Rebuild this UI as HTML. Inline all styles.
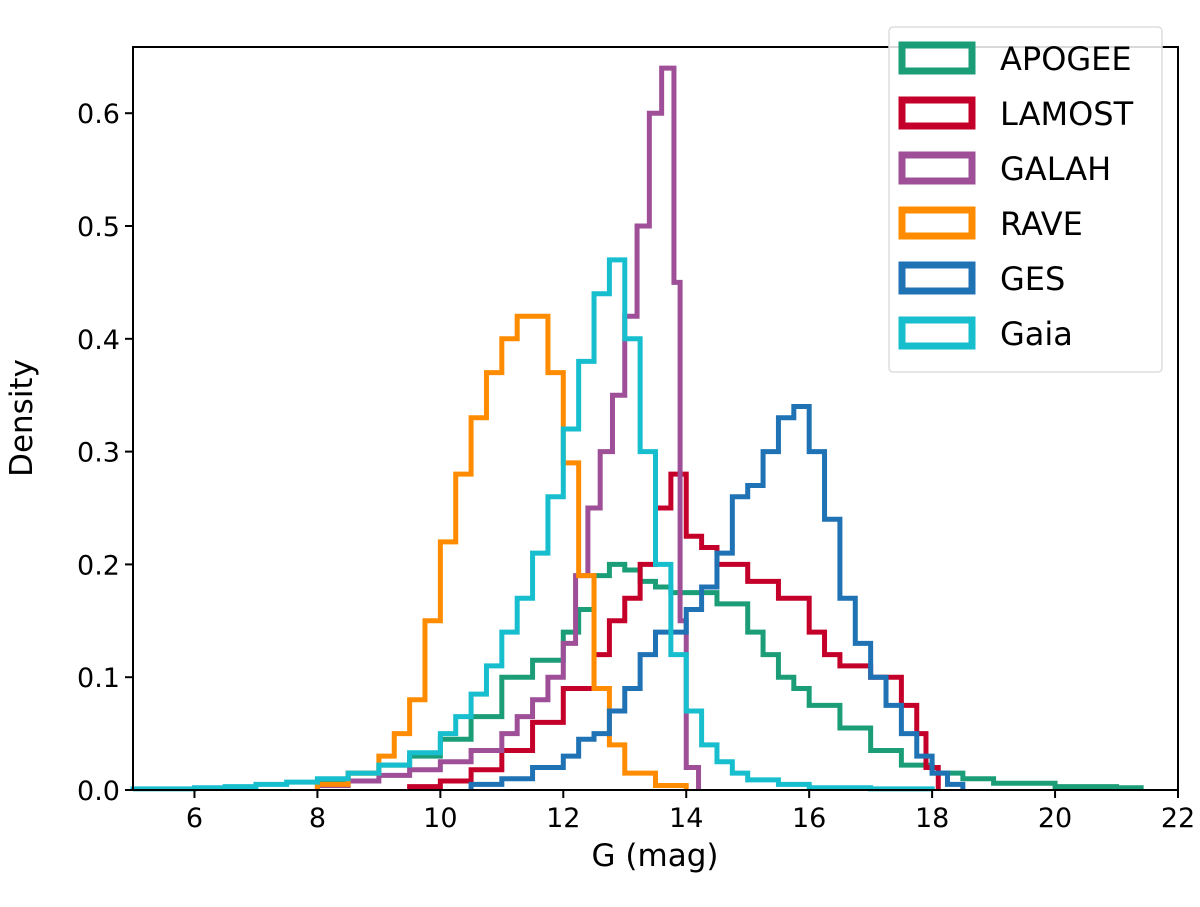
<!DOCTYPE html>
<html><head><meta charset="utf-8"><style>
body{margin:0;background:#fff;}
svg text{font-family:"DejaVu Sans","Liberation Sans",sans-serif;}
</style></head><body>
<svg id="chart" width="1200" height="902" xmlns="http://www.w3.org/2000/svg">
<g id="series"></g>
<rect x="133" y="47" width="1045" height="743" fill="none" stroke="#000" stroke-width="2"/>
<g id="axes"></g>
<text x="655" y="866" font-size="31" text-anchor="middle">G (mag)</text>
<text transform="translate(32,418) rotate(-90)" font-size="31" text-anchor="middle">Density</text>
<g id="legend"></g>
</svg>
<script>
const names=["APOGEE","LAMOST","GALAH","RAVE","GES","Gaia"];
const colors=["#1b9e77","#c4002a","#9e4f98","#ff8c00","#1f72b4","#17bece"];
const apogeeEdges=[8,8.5,9,9.5,10,10.5,11,11.5,12,12.25,12.5,12.75,13,13.25,13.5,13.75,14,14.5,15,15.25,15.5,15.75,16,16.5,17,17.5,18,18.5,19,20,21,21.4];
const apogee=[.008,.015,.022,.03,.045,.065,.1,.115,.14,.16,.19,.2,.195,.185,.18,.175,.175,.165,.14,.12,.1,.09,.075,.055,.035,.022,.015,.01,.006,.003,.002];
const lamostEdges=[9.5,10,10.5,11,11.5,12,12.5,12.75,13,13.25,13.5,13.75,14,14.25,14.5,15,15.5,16,16.25,16.5,17,17.5,17.75,17.9,18.1];
const lamost=[.003,.008,.018,.035,.06,.09,.12,.15,.17,.2,.25,.28,.225,.215,.2,.185,.17,.14,.12,.11,.1,.075,.05,.02];
const galahEdges=[8,8.5,9,9.5,10,10.5,11,11.25,11.5,11.75,12,12.2,12.4,12.6,12.8,13,13.2,13.4,13.6,13.8,13.9,14.0,14.2];
const galah=[.004,.008,.013,.018,.025,.035,.05,.065,.08,.1,.13,.19,.25,.3,.35,.42,.5,.6,.64,.45,.15,.02];
const raveEdges=[8,8.5,9,9.25,9.5,9.75,10,10.25,10.5,10.75,11,11.25,11.5,11.75,12,12.25,12.5,12.75,13,13.5,14];
const rave=[.005,.015,.03,.05,.08,.15,.22,.28,.33,.37,.40,.42,.42,.37,.29,.19,.09,.04,.015,.004];
const gesEdges=[10.5,11,11.5,12,12.25,12.5,12.75,13,13.25,13.5,13.75,14,14.25,14.5,14.75,15,15.25,15.5,15.75,16,16.25,16.5,16.75,17,17.25,17.5,17.75,18,18.25,18.5];
const ges=[.005,.01,.02,.03,.045,.05,.07,.09,.12,.14,.14,.16,.18,.21,.26,.27,.3,.33,.34,.3,.24,.17,.13,.1,.075,.05,.03,.015,.005];
const gaiaEdges=[5,6,6.5,7,7.5,8,8.5,9,9.5,10,10.25,10.5,10.75,11,11.25,11.5,11.75,12,12.25,12.5,12.75,13,13.25,13.5,13.75,14,14.25,14.5,14.75,15,15.5,16,17,18];
const gaia=[.001,.002,.003,.005,.007,.01,.015,.022,.033,.05,.065,.085,.11,.14,.17,.21,.26,.32,.38,.44,.47,.40,.30,.20,.12,.07,.04,.025,.015,.009,.005,.002,.001];
const seriesEdges=[apogeeEdges,lamostEdges,galahEdges,raveEdges,gesEdges,gaiaEdges];
const seriesVals=[apogee,lamost,galah,rave,ges,gaia];
const xTicks=[6,8,10,12,14,16,18,20,22];
const yTicks=["0.0","0.1","0.2","0.3","0.4","0.5","0.6"];
const X0=133,X1=1178,Y0=790,Y1=47,xmin=5,xmax=22,ymax=0.6587;
function xs(v){return X0+(v-xmin)/(xmax-xmin)*(X1-X0);}
function ys(v){return Y0-v/ymax*(Y0-Y1);}
const NS="http://www.w3.org/2000/svg";
const sg=document.getElementById('series');
seriesVals.forEach((vals,k)=>{
  const e=seriesEdges[k];
  let d="M"+xs(e[0])+","+ys(0);
  vals.forEach((v,i)=>{d+=" L"+xs(e[i])+","+ys(v)+" L"+xs(e[i+1])+","+ys(v);});
  d+=" L"+xs(e[vals.length])+","+ys(0);
  const p=document.createElementNS(NS,'path');
  p.setAttribute('d',d);p.setAttribute('fill','none');p.setAttribute('stroke',colors[k]);
  p.setAttribute('stroke-width','5');
  
  
  sg.appendChild(p);
});
const ag=document.getElementById('axes');
xTicks.forEach(t=>{
  const l=document.createElementNS(NS,'line');l.setAttribute('x1',xs(t));l.setAttribute('x2',xs(t));l.setAttribute('y1',Y0);l.setAttribute('y2',Y0+8);l.setAttribute('stroke','#000');l.setAttribute('stroke-width','2');
  
  
  ag.appendChild(l);
  const tx=document.createElementNS(NS,'text');tx.setAttribute('x',xs(t));tx.setAttribute('y',Y0+37);tx.setAttribute('font-size','27');tx.setAttribute('text-anchor','middle');tx.textContent=t;
  
  
  ag.appendChild(tx);
});
yTicks.forEach(t=>{
  const v=parseFloat(t);
  const l=document.createElementNS(NS,'line');l.setAttribute('x1',X0-8);l.setAttribute('x2',X0);l.setAttribute('y1',ys(v));l.setAttribute('y2',ys(v));l.setAttribute('stroke','#000');l.setAttribute('stroke-width','2');
  
  
  ag.appendChild(l);
  const tx=document.createElementNS(NS,'text');tx.setAttribute('x',X0-13);tx.setAttribute('y',ys(v)+10);tx.setAttribute('font-size','27');tx.setAttribute('text-anchor','end');tx.textContent=t;
  
  
  ag.appendChild(tx);
});
const lg=document.getElementById('legend');
const box=document.createElementNS(NS,'rect');
box.setAttribute('x',889);box.setAttribute('y',27);box.setAttribute('width',273);box.setAttribute('height',345);box.setAttribute('rx',4);box.setAttribute('fill','#fff');box.setAttribute('fill-opacity','0.85');box.setAttribute('stroke','#ddd');box.setAttribute('stroke-width','1.5');


lg.appendChild(box);
names.forEach((n,k)=>{
  const cy=58+k*55;
  const r=document.createElementNS(NS,'rect');
  r.setAttribute('x',902);r.setAttribute('y',cy-13);r.setAttribute('width',70);r.setAttribute('height',26);r.setAttribute('fill','none');r.setAttribute('stroke',colors[k]);r.setAttribute('stroke-width','7');
  
  
  lg.appendChild(r);
  const tx=document.createElementNS(NS,'text');tx.setAttribute('x',1000);tx.setAttribute('y',cy+12);tx.setAttribute('font-size','32');tx.textContent=n;
  
  
  lg.appendChild(tx);
});
</script>
</body></html>
